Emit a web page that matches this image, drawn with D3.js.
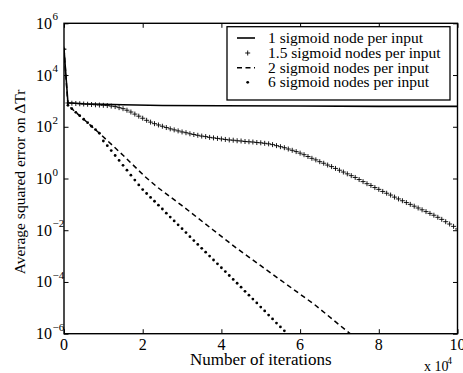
<!DOCTYPE html>
<html>
<head>
<meta charset="utf-8">
<script src="https://cdn.jsdelivr.net/npm/d3@7"></script>
<style>
  body { margin: 0; background: #fff; }
  text { font-family: "Liberation Serif", "Times New Roman", serif; fill: #000; }
</style>
</head>
<body>
<svg id="chart" width="463" height="373"></svg>
<script>
// series, errors stored as log10 values
const iters1 = [0, 1000, 5000, 10000, 15000, 25000, 40000, 60000, 80000, 100000];
const log1 = [5.0, 2.93, 2.89, 2.87, 2.85, 2.82, 2.81, 2.80, 2.79, 2.79];

// 1.5 nodes: one sample every 1000 iterations, 0..100000
const log15 = [5.0, 2.92, 2.91, 2.90, 2.89, 2.88, 2.87, 2.86, 2.85, 2.84,
  2.83, 2.82, 2.80, 2.78, 2.74, 2.70, 2.64, 2.57, 2.49, 2.41,
  2.33, 2.25, 2.18, 2.12, 2.07, 2.02, 1.97, 1.92, 1.88, 1.84,
  1.80, 1.77, 1.73, 1.70, 1.67, 1.64, 1.62, 1.59, 1.57, 1.55,
  1.53, 1.51, 1.49, 1.48, 1.46, 1.45, 1.43, 1.42, 1.41, 1.39,
  1.38, 1.36, 1.34, 1.31, 1.27, 1.23, 1.19, 1.14, 1.09, 1.04,
  0.98, 0.92, 0.85, 0.78, 0.72, 0.65, 0.59, 0.52, 0.46, 0.39,
  0.32, 0.25, 0.18, 0.11, 0.04, -0.04, -0.12, -0.20, -0.27, -0.35,
  -0.42, -0.50, -0.57, -0.64, -0.72, -0.79, -0.86, -0.93, -1.00, -1.07,
  -1.14, -1.21, -1.28, -1.35, -1.42, -1.50, -1.58, -1.67, -1.76, -1.85,
  -1.95];

const iters2 = [0, 1000, 5000, 9000, 10850, 15000, 20600, 23600, 30000, 37900, 43900, 50000, 63800, 72700, 75000];
const log2 = [5.0, 2.83, 2.29, 1.75, 1.49, 0.90, 0.07, -0.32, -1.05, -1.99, -2.70, -3.37, -4.89, -6.00, -6.30];

// 6 nodes: one sample every 1000 iterations, 0..57000
const log6 = [5.0, 2.83, 2.70, 2.56, 2.43, 2.29, 2.16, 2.02, 1.89, 1.75,
  1.45, 1.27, 1.08, 0.89, 0.70, 0.51, 0.32, 0.13, -0.06, -0.25,
  -0.43, -0.58, -0.73, -0.88, -1.03, -1.18, -1.34, -1.49, -1.64, -1.79,
  -1.94, -2.09, -2.25, -2.40, -2.55, -2.70, -2.85, -3.00, -3.15, -3.30,
  -3.45, -3.60, -3.75, -3.90, -4.05, -4.20, -4.36, -4.51, -4.66, -4.81,
  -4.97, -5.12, -5.28, -5.43, -5.59, -5.74, -5.89, -6.05];

const sampleStep = 1000;
const xTicks = [0, 20000, 40000, 60000, 80000, 100000];
const yExps = [6, 4, 2, 0, -2, -4, -6];
const legendLabels = ["1 sigmoid node per input", "1.5 sigmoid nodes per input",
  "2 sigmoid nodes per input", "6 sigmoid nodes per input"];

const box = {left: 64, right: 457.5, top: 23.3, bottom: 333.7};
const svg = d3.select("#chart");

const x = d3.scaleLinear().domain([0, 100000]).range([box.left, box.right]);
const y = d3.scaleLog().domain([1e-6, 1e6]).range([box.bottom, box.top]);

const pts = (its, logs) => logs.map((v, i) => [its[i], Math.pow(10, v)]);
const s1 = pts(iters1, log1);
const s15 = log15.map((v, i) => [i * sampleStep, Math.pow(10, v)]);
const s2 = pts(iters2, log2);
const s6 = log6.map((v, i) => [i * sampleStep, Math.pow(10, v)]);

svg.append("clipPath").attr("id", "clip").append("rect")
  .attr("x", box.left).attr("y", box.top).attr("width", box.right - box.left).attr("height", box.bottom - box.top);

const plot = svg.append("g").attr("clip-path", "url(#clip)");
const line = d3.line().x(d => x(d[0])).y(d => y(d[1]));

plot.append("path").datum(s1).attr("d", line)
  .attr("fill", "none").attr("stroke", "#000").attr("stroke-width", 1.6);
plot.append("path").datum(s2).attr("d", line)
  .attr("fill", "none").attr("stroke", "#000").attr("stroke-width", 1.5).attr("stroke-dasharray", "5,3.5");
plot.append("g").selectAll("path").data(s15).enter().append("path")
  .attr("d", d => "M" + (x(d[0]) - 2.5) + "," + y(d[1]) + "h5M" + x(d[0]) + "," + (y(d[1]) - 2.5) + "v5")
  .attr("stroke", "#000").attr("stroke-width", 0.9);
plot.append("g").selectAll("circle").data(s6).enter().append("circle")
  .attr("cx", d => x(d[0])).attr("cy", d => y(d[1])).attr("r", 1.4).attr("fill", "#000");

// axes, ticks on all four sides pointing inward
const tl = 4.5;
const yTickVals = yExps.map(e => Math.pow(10, e));
svg.append("g").attr("transform", "translate(0," + box.bottom + ")")
  .call(d3.axisBottom(x).tickValues(xTicks).tickSizeInner(-tl).tickSizeOuter(0).tickFormat(""));
svg.append("g").attr("transform", "translate(0," + box.top + ")")
  .call(d3.axisTop(x).tickValues(xTicks).tickSizeInner(-tl).tickSizeOuter(0).tickFormat(""));
svg.append("g").attr("transform", "translate(" + box.left + ",0)")
  .call(d3.axisLeft(y).tickValues(yTickVals).tickSizeInner(-tl).tickSizeOuter(0).tickFormat(""));
svg.append("g").attr("transform", "translate(" + box.right + ",0)")
  .call(d3.axisRight(y).tickValues(yTickVals).tickSizeInner(-tl).tickSizeOuter(0).tickFormat(""));
svg.selectAll(".domain").remove();
svg.selectAll(".tick line").attr("stroke", "#000").attr("stroke-width", 1);
svg.append("rect").attr("x", box.left).attr("y", box.top).attr("width", box.right - box.left).attr("height", box.bottom - box.top)
  .attr("fill", "none").attr("stroke", "#000").attr("stroke-width", 1.4);

// tick labels
svg.append("g").selectAll("text").data(xTicks).enter().append("text")
  .attr("x", d => x(d)).attr("y", box.bottom + 16).attr("text-anchor", "middle")
  .style("font-size", "16px").text(d => d / 10000);

const yl = svg.append("g").selectAll("g").data(yExps).enter().append("g")
  .attr("transform", d => "translate(0," + y(Math.pow(10, d)) + ")");
yl.append("text").attr("x", 52).attr("y", 5.5).attr("text-anchor", "end")
  .style("font-size", "16px").text("10");
yl.append("text").attr("x", 52.5).attr("y", -3).style("font-size", "11px")
  .text(d => d < 0 ? "\u2212" + (-d) : d);

svg.append("text").attr("x", (box.left + box.right) / 2).attr("y", 365).attr("text-anchor", "middle")
  .style("font-size", "17px").text("Number of iterations");
svg.append("text").attr("x", 424).attr("y", 371).style("font-size", "14px").text("x 10");
svg.append("text").attr("x", 447).attr("y", 364).style("font-size", "10px").text("4");

svg.append("text").attr("transform", "translate(25,182) rotate(-90)").attr("text-anchor", "middle")
  .style("font-size", "15.5px").text("Average squared error on \u0394Tr");

// legend
const lg = svg.append("g");
lg.append("rect").attr("x", 227).attr("y", 26.7).attr("width", 223).attr("height", 73.3)
  .attr("fill", "#fff").attr("stroke", "#000").attr("stroke-width", 1.3);
const rowY = [38, 53, 67.7, 82.3];
lg.selectAll("text").data(legendLabels).enter().append("text")
  .attr("x", 268).attr("y", (d, i) => rowY[i] + 5).style("font-size", "15.5px").text(d => d);
lg.append("line").attr("x1", 237).attr("x2", 255).attr("y1", rowY[0]).attr("y2", rowY[0])
  .attr("stroke", "#000").attr("stroke-width", 1.6);
lg.append("path").attr("d", "M245.2," + rowY[1] + "h5M247.7," + (rowY[1] - 2.5) + "v5")
  .attr("stroke", "#000").attr("stroke-width", 0.9);
lg.append("line").attr("x1", 237).attr("x2", 255).attr("y1", rowY[2]).attr("y2", rowY[2])
  .attr("stroke", "#000").attr("stroke-width", 1.5).attr("stroke-dasharray", "5,3.5");
lg.append("circle").attr("cx", 247.7).attr("cy", rowY[3]).attr("r", 1.4).attr("fill", "#000");
</script>
</body>
</html>
